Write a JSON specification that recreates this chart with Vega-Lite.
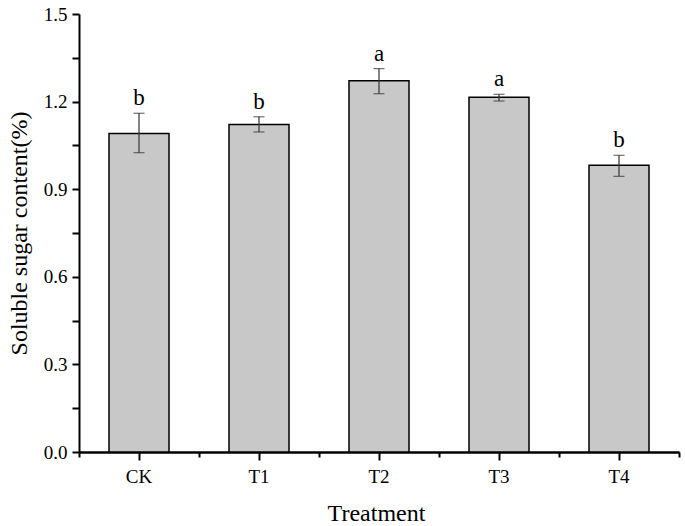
{
  "$schema": "https://vega.github.io/schema/vega-lite/v6.json",
  "width": 600,
  "height": 438,
  "autosize": {"type": "none"},
  "padding": {"left": 79, "top": 14, "right": 6, "bottom": 74},
  "background": "white",
  "config": {"view": {"stroke": null}, "font": "Liberation Serif"},
  "data": {
    "values": [
      {"trt": "CK", "mean": 1.091, "lo": 1.025, "hi": 1.160, "sig": "b"},
      {"trt": "T1", "mean": 1.122, "lo": 1.096, "hi": 1.148, "sig": "b"},
      {"trt": "T2", "mean": 1.271, "lo": 1.227, "hi": 1.313, "sig": "a"},
      {"trt": "T3", "mean": 1.215, "lo": 1.202, "hi": 1.225, "sig": "a"},
      {"trt": "T4", "mean": 0.982, "lo": 0.944, "hi": 1.016, "sig": "b"}
    ]
  },
  "resolve": {"scale": {"x": "independent", "y": "independent"}, "axis": {"x": "independent", "y": "independent"}},
  "layer": [
    {
      "mark": {"type": "bar", "fill": "#c8c8c8", "stroke": "#000000", "strokeWidth": 1.5, "width": {"band": 1}},
      "encoding": {
        "x": {
          "field": "trt", "type": "nominal", "sort": null,
          "scale": {"paddingInner": 0.5, "paddingOuter": 0.25},
          "axis": {
            "orient": "bottom", "offset": 0, "title": "Treatment", "labelAngle": 0,
            "labelFontSize": 19, "labelColor": "#000", "labelPadding": 7, "labelFont": "Liberation Serif",
            "tickSize": 8, "tickWidth": 2, "tickColor": "#000",
            "domainColor": "#000", "domainWidth": 2,
            "titleFontSize": 24, "titleFontWeight": "normal", "titleColor": "#000", "titleFont": "Liberation Serif",
            "titleX": 297, "titleY": 68, "titleBaseline": "alphabetic", "titleAlign": "center"
          }
        },
        "y": {
          "field": "mean", "type": "quantitative",
          "scale": {"domain": [0, 1.5], "nice": false, "zero": true},
          "axis": {
            "orient": "left", "offset": 0, "title": "Soluble sugar content(%)",
            "values": [0, 0.15, 0.3, 0.45, 0.6, 0.75, 0.9, 1.05, 1.2, 1.35, 1.5], "format": ".2f",
            "labelExpr": "round(datum.value * 100) % 30 == 0 ? format(datum.value, '.1f') : ''",
            "labelFontSize": 19, "labelColor": "#000", "labelPadding": 5, "labelFont": "Liberation Serif",
            "tickSize": 7, "tickWidth": 2, "tickColor": "#000",
            "domainColor": "#000", "domainWidth": 2, "grid": false,
            "titleFontSize": 24, "titleFontWeight": "normal", "titleColor": "#000", "titleFont": "Liberation Serif",
            "titleAngle": -90, "titleX": -60, "titleY": 219, "titleAlign": "center", "titleBaseline": "middle"
          }
        }
      }
    },
    {
      "mark": {"type": "rule", "color": "#333333", "strokeWidth": 1.2},
      "encoding": {
        "x": {
          "field": "trt", "type": "nominal", "sort": null,
          "scale": {"paddingInner": 0, "paddingOuter": 0},
          "axis": {
            "orient": "bottom", "offset": 0, "position": 0, "title": null, "labels": false, "tickBand": "extent",
            "tickSize": 5, "tickWidth": 2, "tickColor": "#000",
            "domainColor": "#000", "domainWidth": 2
          }
        },
        "y": {
          "field": "lo", "type": "quantitative",
          "scale": {"domain": [0, 1.5], "nice": false, "zero": true},
          "axis": null
        },
        "y2": {"field": "hi"}
      }
    },
    {
      "mark": {"type": "tick", "color": "#333333", "thickness": 1.2, "size": 11},
      "encoding": {
        "x": {"field": "trt", "type": "nominal", "sort": null, "scale": {"paddingInner": 0.5, "paddingOuter": 0.25}, "axis": null},
        "y": {"field": "lo", "type": "quantitative", "scale": {"domain": [0, 1.5], "nice": false, "zero": true}, "axis": null}
      }
    },
    {
      "mark": {"type": "tick", "color": "#333333", "thickness": 1.2, "size": 11},
      "encoding": {
        "x": {"field": "trt", "type": "nominal", "sort": null, "scale": {"paddingInner": 0.5, "paddingOuter": 0.25}, "axis": null},
        "y": {"field": "hi", "type": "quantitative", "scale": {"domain": [0, 1.5], "nice": false, "zero": true}, "axis": null}
      }
    },
    {
      "mark": {"type": "text", "font": "Liberation Serif", "fontSize": 23, "baseline": "alphabetic", "dy": -8, "color": "#000"},
      "encoding": {
        "x": {"field": "trt", "type": "nominal", "sort": null, "scale": {"paddingInner": 0.5, "paddingOuter": 0.25}, "axis": null},
        "y": {"field": "hi", "type": "quantitative", "scale": {"domain": [0, 1.5], "nice": false, "zero": true}, "axis": null},
        "text": {"field": "sig"}
      }
    }
  ]
}
